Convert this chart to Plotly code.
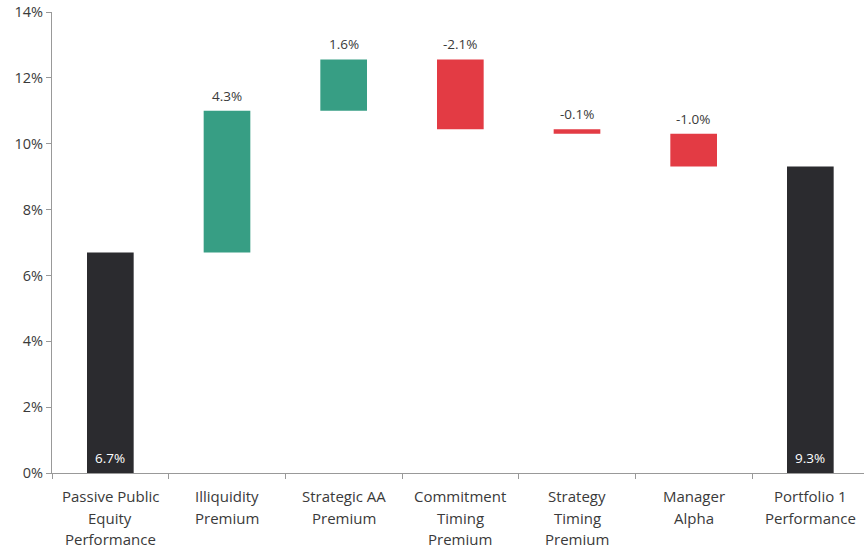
import plotly.graph_objects as go

categories = ["Passive Public<br>Equity<br>Performance", "Illiquidity<br>Premium",
              "Strategic AA<br>Premium", "Commitment<br>Timing<br>Premium",
              "Strategy<br>Timing<br>Premium", "Manager<br>Alpha",
              "Portfolio 1<br>Performance"]
measures = ["absolute", "relative", "relative", "relative", "relative", "relative", "total"]
values = [6.7, 4.3, 1.56, -2.12, -0.14, -0.99, 9.31]

GREEN = "#379e84"
RED = "#e33b44"
BLACK = "#2b2b2f"
TXT = "#3a3a3a"
FONT = "Open Sans"

xs = list(range(len(categories)))
bases, heights, colors = [], [], []
running = 0.0
for m, v in zip(measures, values):
    if m == "relative":
        bases.append(running)
        heights.append(v)
        colors.append(GREEN if v >= 0 else RED)
        running += v
    else:
        bases.append(0)
        heights.append(v)
        colors.append(BLACK)
        running = v

fig = go.Figure()
fig.add_trace(go.Bar(x=xs, y=heights, base=bases, width=0.4,
                     marker=dict(color=colors, line=dict(width=0)),
                     hoverinfo="skip"))

annotations = []
for i, (m, v, b) in enumerate(zip(measures, values, bases)):
    label = f"{v:.1f}%"
    if m == "relative":
        top = max(b, b + v)
        annotations.append(dict(x=i, y=top, xref="x", yref="y", text=label,
                                showarrow=False, yanchor="middle", yshift=15,
                                font=dict(family=FONT, size=13.5, color=TXT)))
    else:
        annotations.append(dict(x=i, y=0, xref="x", yref="y", text=label,
                                showarrow=False, yanchor="middle", yshift=15,
                                font=dict(family=FONT, size=13.5, color="white")))
    for j, line in enumerate(categories[i].split("<br>")):
        annotations.append(dict(x=i, y=0, xref="x", yref="y", text=line,
                                showarrow=False, yanchor="middle",
                                yshift=-(23 + 21.5 * j),
                                font=dict(family=FONT, size=15, color=TXT)))

fig.update_layout(
    width=864, height=550,
    margin=dict(l=52, r=0, t=12, b=77, autoexpand=False),
    paper_bgcolor="white", plot_bgcolor="white",
    showlegend=False,
    annotations=annotations,
    font=dict(family=FONT, color=TXT),
)
fig.update_xaxes(range=[-0.5, 6.46], tickmode="array", tickvals=[i - 0.5 for i in xs] + [6.5],
                 ticktext=[""] * (len(xs) + 1), showticklabels=False,
                 ticks="outside", ticklen=5, tickcolor="#999999",
                 showline=True, linecolor="#999999", linewidth=1,
                 showgrid=False, zeroline=False)
fig.update_yaxes(range=[0, 14], dtick=2, ticksuffix="%", tickformat="d",
                 ticks="outside", ticklen=5, tickcolor="#999999",
                 showline=True, linecolor="#999999", linewidth=1,
                 showgrid=False, zeroline=False,
                 tickfont=dict(family=FONT, size=14.5, color=TXT))

fig.write_html("out.html", config={"displayModeBar": False},
               post_script="document.body.style.margin='0';document.body.style.overflow='hidden';")
